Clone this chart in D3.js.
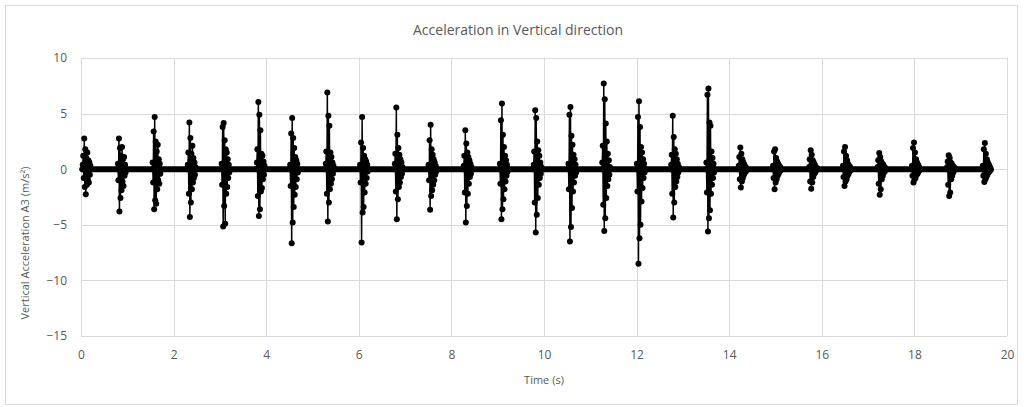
<!DOCTYPE html>
<html>
<head>
<meta charset="utf-8">
<script src="https://cdn.jsdelivr.net/npm/d3@7"></script>
<style>
  body { margin: 0; background: #fff; }
  svg { display: block; font-family: "Open Sans", Lato, sans-serif; }
</style>
</head>
<body>
<svg id="chart"></svg>
<script>
// Chart size
const width = 1024, height = 407;
const margin = { top: 58, right: 17, bottom: 71, left: 81 };

// Tick values
const xTicks = [0, 2, 4, 6, 8, 10, 12, 14, 16, 18, 20];
const yTicks = [-15, -10, -5, 0, 5, 10];

// Centre time (s) of each vibration burst
const burstTimes = [0.12, 0.88, 1.63, 2.39, 3.12, 3.88, 4.60, 5.37, 6.11, 6.86, 7.59, 8.35, 9.13, 9.86,
  10.61, 11.34, 12.09, 12.83, 13.59, 14.29, 15.03, 15.81, 16.54, 17.29, 18.03, 18.79, 19.56];

// Sample interval inside a burst (s)
const sampleStep = 0.011;

// Span of the record (s), quiet level is ~0
const recordSpan = [0, 19.66];

// Acceleration samples of each burst (m/s²)
const burstSamples = [
  [0.4, 1.2, -0.8, 2.75, -1.6, 1.8, -2.25, 1.0, -1.4, 1.5, -0.9, 0.8, -1.2, 0.6, -0.5, 0.3],
  [0.5, -1.0, 2.75, -3.8, 1.9, -2.6, 1.2, -1.9, 2.0, -1.1, 0.9, -1.5, 1.1, -0.6, 0.4, -0.3],
  [0.6, -1.2, 3.4, -3.6, 4.7, -2.8, 2.5, -3.1, 1.6, -1.8, 2.2, -1.0, 0.9, -1.3, 0.5, -0.4],
  [0.4, 1.5, -2.2, 4.2, -4.3, 2.8, -3.0, 1.4, -1.8, 2.1, -1.2, 1.0, -0.8, 0.6, -0.5, 0.2],
  [0.5, -1.4, 3.8, -5.15, 4.15, -3.3, 2.6, -4.9, 1.8, -2.2, 1.5, -1.6, 0.9, -0.8, 0.4, -0.3],
  [0.6, 1.8, -2.4, 6.05, -4.2, 4.9, -3.6, 3.5, -2.0, 1.4, -1.7, 1.2, -0.9, 0.7, -0.5, 0.3],
  [0.4, -1.5, 3.2, -6.65, 4.6, -4.8, 2.8, -3.4, 1.9, -2.3, 1.1, -1.6, 0.8, -0.9, 0.5, -0.3],
  [0.5, 1.6, -2.2, 6.9, -4.7, 4.8, -3.0, 3.9, -1.8, 1.5, -1.3, 1.1, -0.9, 0.6, -0.4, 0.3],
  [0.4, -1.2, 2.4, -6.6, 4.7, -3.9, 1.9, -3.4, 1.2, -2.1, 0.9, -1.3, 0.7, -0.8, 0.4, -0.2],
  [0.5, 1.4, -2.0, 5.55, -4.5, 3.1, -2.7, 1.9, -1.6, 1.3, -1.2, 0.9, -0.7, 0.6, -0.4, 0.2],
  [0.4, -1.0, 2.6, -3.65, 4.0, -2.4, 1.8, -1.9, 1.3, -1.4, 0.9, -1.0, 0.6, -0.5, 0.3, -0.2],
  [0.3, 1.2, -2.1, 3.5, -4.8, 2.3, -3.3, 1.5, -2.2, 1.1, -1.3, 0.8, -0.7, 0.5, -0.4, 0.2],
  [0.5, -1.3, 4.4, -4.5, 5.9, -3.6, 3.1, -2.7, 2.0, -1.8, 1.2, -1.1, 0.8, -0.6, 0.4, -0.2],
  [0.4, 1.6, -3.0, 5.3, -5.7, 4.6, -4.1, 2.5, -2.6, 1.7, -1.4, 1.2, -0.8, 0.6, -0.4, 0.2],
  [0.5, -1.8, 4.9, -6.5, 5.6, -5.2, 3.0, -3.5, 2.2, -2.0, 1.3, -1.2, 0.9, -0.6, 0.4, -0.3],
  [0.6, 2.1, -3.2, 7.7, -5.55, 6.3, -4.4, 4.1, -2.6, 2.5, -1.5, 1.4, -0.9, 0.8, -0.5, 0.2],
  [0.5, -2.0, 4.7, -8.5, 6.1, -6.2, 3.8, -5.0, 2.0, -2.9, 1.5, -1.7, 0.9, -0.8, 0.5, -0.3],
  [0.4, 1.3, -2.2, 4.8, -4.35, 2.9, -3.0, 1.8, -1.6, 1.4, -1.1, 0.9, -0.7, 0.5, -0.3, 0.2],
  [0.6, -2.1, 6.7, -5.6, 7.25, -4.4, 4.2, -3.7, 3.9, -2.2, 1.6, -1.4, 1.0, -0.8, 0.5, -0.3],
  [0.3, 1.1, -0.9, 1.95, -1.65, 1.4, -1.1, 0.9, -0.8, 0.6, -0.5, 0.4, -0.3, 0.2, -0.2, 0.1],
  [0.3, -0.8, 1.6, -1.8, 1.8, -1.2, 1.0, -0.9, 0.7, -0.6, 0.5, -0.4, 0.3, -0.2, 0.2, -0.1],
  [0.2, 0.9, -1.1, 1.7, -1.75, 1.3, -1.2, 0.8, -0.7, 0.6, -0.4, 0.4, -0.3, 0.2, -0.1, 0.1],
  [0.3, -0.7, 1.6, -1.5, 2.0, -1.1, 1.2, -0.9, 0.8, -0.6, 0.5, -0.4, 0.3, -0.2, 0.2, -0.1],
  [0.2, 0.8, -1.3, 1.45, -2.3, 1.1, -1.8, 0.7, -0.9, 0.5, -0.6, 0.4, -0.3, 0.2, -0.2, 0.1],
  [0.3, -0.6, 1.9, -1.2, 2.4, -0.9, 1.5, -0.8, 0.9, -0.5, 0.6, -0.4, 0.4, -0.2, 0.2, -0.1],
  [0.2, 0.7, -1.4, 1.25, -2.4, 1.0, -2.1, 0.6, -0.9, 0.5, -0.6, 0.3, -0.3, 0.2, -0.1, 0.1],
  [0.3, -0.6, 1.8, -1.15, 2.35, -0.9, 1.4, -0.7, 0.9, -0.5, 0.6, -0.3, 0.4, -0.2, 0.2, -0.1]
];

// Build one time series: each burst laid out on the sample grid round its centre
const series = [];
burstTimes.forEach((tc, k) => {
  const vals = burstSamples[k];
  const t0 = tc - sampleStep * (vals.length - 1) / 2;
  series.push({ t: t0 - sampleStep, a: 0 });
  vals.forEach((v, i) => series.push({ t: t0 + i * sampleStep, a: v }));
  series.push({ t: t0 + vals.length * sampleStep, a: 0 });
});

const svg = d3.select('#chart').attr('width', width).attr('height', height);

// Outer chart border
svg.append('rect')
  .attr('x', 5.5).attr('y', 5.5)
  .attr('width', width - 12).attr('height', height - 8)
  .attr('fill', '#fff').attr('stroke', '#d9d9d9');

const x = d3.scaleLinear().domain([0, 20]).range([margin.left, width - margin.right]);
const y = d3.scaleLinear().domain([-15, 10]).range([height - margin.bottom, margin.top]);

// Grid lines
svg.append('g')
  .selectAll('line.gx')
  .data(xTicks)
  .join('line')
  .attr('x1', d => Math.round(x(d)) + 0.5).attr('x2', d => Math.round(x(d)) + 0.5)
  .attr('y1', y(10)).attr('y2', y(-15))
  .attr('stroke', '#d9d9d9');

svg.append('g')
  .selectAll('line.gy')
  .data(yTicks)
  .join('line')
  .attr('x1', x(0)).attr('x2', x(20))
  .attr('y1', d => Math.round(y(d)) + 0.5).attr('y2', d => Math.round(y(d)) + 0.5)
  .attr('stroke', '#d9d9d9');

// Axes (labels only, Excel style)
const xAxis = svg.append('g')
  .attr('transform', `translate(0,${y(-15)})`)
  .call(d3.axisBottom(x).tickValues(xTicks).tickSize(0).tickPadding(14));
const yAxis = svg.append('g')
  .attr('transform', `translate(${x(0)},0)`)
  .call(d3.axisLeft(y).tickValues(yTicks).tickSize(0).tickPadding(14));
[xAxis, yAxis].forEach(g => {
  g.select('.domain').remove();
  g.selectAll('text').attr('fill', '#595959').style('font-size', '12px')
    .style('font-family', '"Open Sans", Lato, sans-serif');
});

// Thick quiet band at zero
svg.append('path')
  .datum(recordSpan)
  .attr('d', d3.line().x(d => x(d)).y(() => y(0)))
  .attr('stroke', '#000').attr('stroke-width', 6).attr('fill', 'none');

// Series line
svg.append('path')
  .datum(series)
  .attr('d', d3.line().x(d => x(d.t)).y(d => y(d.a)))
  .attr('stroke', '#000').attr('stroke-width', 1.5).attr('fill', 'none');

// Markers
svg.append('g')
  .selectAll('circle')
  .data(series)
  .join('circle')
  .attr('cx', d => x(d.t))
  .attr('cy', d => y(d.a))
  .attr('r', 3)
  .attr('fill', '#000');

// Title
svg.append('text')
  .attr('x', 518).attr('y', 35)
  .attr('text-anchor', 'middle')
  .attr('fill', '#595959')
  .style('font-size', '14px')
  .text('Acceleration in Vertical direction');

// Axis titles
svg.append('text')
  .attr('x', (x(0) + x(20)) / 2).attr('y', 384)
  .attr('text-anchor', 'middle')
  .attr('fill', '#595959')
  .style('font-size', '11px')
  .text('Time (s)');

svg.append('text')
  .attr('transform', 'translate(29,243) rotate(-90)')
  .attr('text-anchor', 'middle')
  .attr('fill', '#595959')
  .style('font-size', '11px')
  .text('Vertical Acceleration A3 (m/s²)');
</script>
</body>
</html>
